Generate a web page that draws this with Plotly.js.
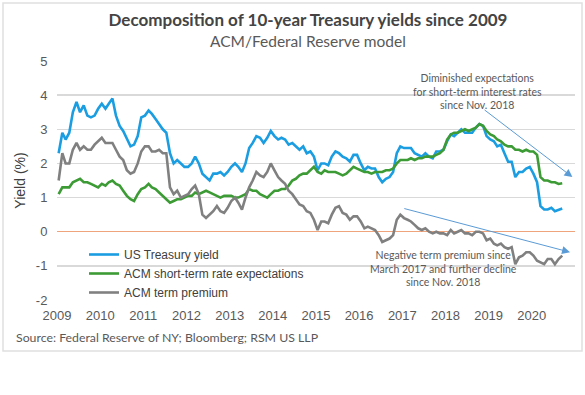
<!DOCTYPE html>
<html>
<head>
<meta charset="utf-8">
<script src="https://cdn.plot.ly/plotly-3.0.1.min.js"></script>
<style>
html,body{margin:0;padding:0;background:#fff;}
#chart{width:585px;height:395px;}
</style>
</head>
<body>
<div id="chart"></div>
<script>
// Monthly readings, Jan 2009 .. Sep 2020
const treasuryYield = [
  2.3, 2.9, 2.7, 2.9, 3.5, 3.8, 3.5, 3.7, 3.4, 3.35, 3.4, 3.6,      // 2009
  3.75, 3.6, 3.75, 3.9, 3.4, 3.1, 2.95, 2.7, 2.5, 2.55, 2.8, 3.35,  // 2010
  3.4, 3.55, 3.45, 3.3, 3.15, 3.0, 2.9, 2.3, 2.0, 2.1, 2.0, 1.9,    // 2011
  1.9, 2.0, 2.2, 2.0, 1.7, 1.6, 1.5, 1.7, 1.7, 1.75, 1.65, 1.75,    // 2012
  1.9, 2.0, 1.9, 1.75, 2.0, 2.45, 2.6, 2.8, 2.75, 2.6, 2.75, 2.95,  // 2013
  2.8, 2.7, 2.75, 2.7, 2.55, 2.6, 2.5, 2.4, 2.5, 2.3, 2.35, 2.2,    // 2014
  1.8, 2.0, 2.0, 1.95, 2.2, 2.35, 2.3, 2.2, 2.15, 2.05, 2.25, 2.25, // 2015
  2.0, 1.8, 1.9, 1.85, 1.85, 1.6, 1.45, 1.55, 1.6, 1.75, 2.3, 2.5,  // 2016
  2.45, 2.45, 2.45, 2.3, 2.25, 2.2, 2.3, 2.2, 2.15, 2.35, 2.35, 2.4,// 2017
  2.65, 2.85, 2.8, 2.9, 3.0, 2.9, 2.9, 2.9, 3.05, 3.15, 3.1, 2.8,   // 2018
  2.7, 2.65, 2.5, 2.55, 2.3, 2.05, 2.05, 1.6, 1.75, 1.75, 1.85, 1.9,// 2019
  1.7, 1.45, 0.75, 0.65, 0.65, 0.7, 0.6, 0.65, 0.68                 // 2020
];
const shortRateExpectations = [
  1.1, 1.3, 1.3, 1.3, 1.45, 1.5, 1.55, 1.45, 1.45, 1.4, 1.35, 1.3,  // 2009
  1.4, 1.35, 1.45, 1.5, 1.4, 1.35, 1.2, 1.05, 0.95, 0.9, 1.1, 1.25, // 2010
  1.3, 1.4, 1.3, 1.25, 1.15, 1.05, 0.95, 0.85, 0.9, 0.95, 0.95, 1.0,// 2011
  1.05, 1.05, 1.15, 1.1, 1.15, 1.2, 1.15, 1.1, 1.05, 1.0, 1.05, 1.05,// 2012
  1.05, 1.0, 1.0, 1.05, 1.1, 1.25, 1.2, 1.2, 1.1, 1.05, 1.0, 1.1,   // 2013
  1.2, 1.2, 1.25, 1.25, 1.35, 1.5, 1.55, 1.65, 1.7, 1.7, 1.8, 1.9,  // 2014
  1.75, 1.7, 1.8, 1.75, 1.75, 1.75, 1.7, 1.65, 1.7, 1.8, 1.9, 1.85, // 2015
  1.8, 1.75, 1.75, 1.7, 1.75, 1.75, 1.75, 1.8, 1.8, 1.85, 2.0, 2.1, // 2016
  2.1, 2.1, 2.15, 2.1, 2.15, 2.15, 2.2, 2.2, 2.2, 2.25, 2.3, 2.4,   // 2017
  2.7, 2.85, 2.9, 2.9, 2.95, 3.0, 2.95, 3.0, 3.05, 3.15, 3.1, 2.95, // 2018
  2.85, 2.8, 2.7, 2.65, 2.55, 2.5, 2.5, 2.4, 2.4, 2.35, 2.4, 2.35,  // 2019
  2.35, 2.25, 1.6, 1.5, 1.5, 1.45, 1.45, 1.4, 1.42                  // 2020
];
const termPremium = [
  1.5, 2.3, 2.0, 2.0, 2.4, 2.6, 2.4, 2.5, 2.4, 2.4, 2.55, 2.65,     // 2009
  2.75, 2.6, 2.6, 2.6, 2.4, 2.2, 2.1, 1.8, 1.7, 1.75, 2.0, 2.35,    // 2010
  2.5, 2.5, 2.35, 2.35, 2.4, 2.3, 2.3, 1.3, 1.1, 1.2, 1.0, 1.05,    // 2011
  1.1, 1.25, 1.35, 1.1, 0.5, 0.4, 0.5, 0.6, 0.75, 0.6, 0.55, 0.7,   // 2012
  0.9, 1.0, 0.85, 0.65, 1.0, 1.3, 1.5, 1.75, 1.65, 1.6, 1.75, 2.0,  // 2013
  1.8, 1.6, 1.5, 1.4, 1.2, 1.1, 0.95, 0.8, 0.75, 0.6, 0.55, 0.35,   // 2014
  0.05, 0.3, 0.3, 0.25, 0.5, 0.7, 0.75, 0.55, 0.5, 0.35, 0.45, 0.45,// 2015
  0.3, 0.1, 0.15, 0.1, 0.05, -0.1, -0.3, -0.25, -0.2, -0.1, 0.35, 0.5,// 2016
  0.4, 0.35, 0.3, 0.2, 0.1, 0.05, 0.1, 0.0, -0.05, 0.0, -0.05, -0.05,// 2017
  -0.1, 0.05, -0.05, 0.0, 0.05, -0.05, -0.05, -0.1, 0.0, 0.0, -0.05, -0.25,// 2018
  -0.2, -0.35, -0.4, -0.35, -0.45, -0.5, -0.45, -0.95, -0.75, -0.7, -0.6, -0.6,// 2019
  -0.7, -0.85, -0.9, -0.95, -0.8, -0.8, -0.95, -0.8, -0.7           // 2020
];
const seriesNames = ['US Treasury yield', 'ACM short-term rate expectations', 'ACM term premium'];
const seriesColors = ['#1b9de2', '#3d9b35', '#808080'];
const yTicks = [-2, -1, 0, 1, 2, 3, 4, 5];

const dates = treasuryYield.map((_, i) =>
  (2009 + Math.floor(i / 12)) + '-' + String(i % 12 + 1).padStart(2, '0') + '-15');

const allSeries = [treasuryYield, shortRateExpectations, termPremium];
const traces = allSeries.map((vals, k) => ({
  type: 'scatter', mode: 'lines', x: dates, y: vals, name: seriesNames[k],
  line: {color: seriesColors[k], width: 2.6}, hoverinfo: 'skip'
}));

// pixel helpers -> paper coords (plot area: x 57..575, y 61..300)
const L = 57, R = 575, T = 61, B = 300;
const px = v => (v - L) / (R - L);
const py = v => (B - v) / (B - T);

const annFont = {family: 'Lato, "Open Sans", sans-serif', size: 10.5, color: '#595959'};
const arrowColor = '#5b9bd5';

const layout = {
  width: 585, height: 395,
  margin: {l: L, r: 585 - R, t: T, b: 395 - B},
  paper_bgcolor: '#ffffff', plot_bgcolor: '#ffffff',
  showlegend: true,
  title: {
    text: '<b>Decomposition of 10-year Treasury yields since 2009</b>',
    font: {family: 'Lato, "Open Sans", sans-serif', size: 17, color: '#444444'},
    xref: 'container', yref: 'container', x: 308 / 585, xanchor: 'center',
    y: 1 - 20 / 395, yanchor: 'middle'
  },
  xaxis: {
    type: 'date', range: ['2009-01-01', '2021-01-01'],
    dtick: 'M12', tick0: '2009-01-01', tickformat: '%Y',
    showgrid: false, zeroline: false, showline: false,
    ticks: 'outside', ticklen: 3, tickcolor: 'rgba(0,0,0,0)',
    tickfont: {family: '"Liberation Sans", Arial, sans-serif', size: 13, color: '#595959'},
    fixedrange: true
  },
  yaxis: {
    range: [-2, 5], tickvals: yTicks, ticktext: yTicks.map(v => v < 0 ? '-' + Math.abs(v) : String(v)),
    showgrid: true, gridcolor: '#d9d9d9', gridwidth: 1.5,
    zeroline: true, zerolinecolor: '#f0a47c', zerolinewidth: 1.5,
    showline: false, ticks: 'outside', ticklen: 6, tickcolor: 'rgba(0,0,0,0)',
    tickfont: {family: '"Liberation Sans", Arial, sans-serif', size: 13, color: '#595959'},
    title: {text: 'Yield (%)', font: {family: '"Liberation Sans", Arial, sans-serif', size: 14, color: '#404040'}, standoff: 6},
    fixedrange: true
  },
  legend: {
    x: px(84), y: py(240), xanchor: 'left', yanchor: 'top',
    bgcolor: 'rgba(0,0,0,0)', borderwidth: 0, tracegroupgap: 0,
    font: {family: '"Liberation Sans", Arial, sans-serif', size: 12, color: '#404040'}
  },
  shapes: [{
    type: 'rect', xref: 'paper', yref: 'paper',
    x0: px(3), x1: px(582), y0: py(351), y1: py(3),
    line: {color: '#e0e0e0', width: 1.5}, fillcolor: 'rgba(0,0,0,0)', layer: 'below'
  }],
  annotations: [
    {text: 'ACM/Federal Reserve model', xref: 'paper', yref: 'paper', x: px(308), y: py(41),
     xanchor: 'center', yanchor: 'middle', showarrow: false,
     font: {family: 'Lato, "Open Sans", sans-serif', size: 15.5, color: '#595959'}},
    {text: 'Diminished expectations<br>for short-term interest rates<br>since Nov. 2018',
     xref: 'paper', yref: 'paper', x: px(477), y: py(92), xanchor: 'center', yanchor: 'middle',
     showarrow: false, align: 'center', font: annFont},
    {text: 'Negative term premium since<br>March 2017 and further decline<br>since Nov. 2018',
     xref: 'paper', yref: 'paper', x: px(443), y: py(268), xanchor: 'center', yanchor: 'middle',
     showarrow: false, align: 'center', font: annFont},
    {text: '', xref: 'x', yref: 'y', axref: 'x', ayref: 'y',
     x: '2020-12-10', y: 1.6, ax: '2018-11-15', ay: 3.6,
     showarrow: true, arrowhead: 2, arrowsize: 1.6, arrowwidth: 1, arrowcolor: arrowColor, standoff: 0},
    {text: '', xref: 'x', yref: 'y', axref: 'x', ayref: 'y',
     x: '2020-11-20', y: -0.6, ax: '2017-01-05', ay: 0.69,
     showarrow: true, arrowhead: 2, arrowsize: 1.6, arrowwidth: 1, arrowcolor: arrowColor, standoff: 0},
    {text: 'Source: Federal Reserve of NY; Bloomberg; RSM US LLP', xref: 'paper', yref: 'paper',
     x: px(14), y: py(337), xanchor: 'left', yanchor: 'middle', showarrow: false,
     font: {family: 'Lato, "Open Sans", sans-serif', size: 12.3, color: '#595959'}}
  ]
};

Plotly.newPlot('chart', traces, layout, {staticPlot: true, displayModeBar: false});
</script>
</body>
</html>
